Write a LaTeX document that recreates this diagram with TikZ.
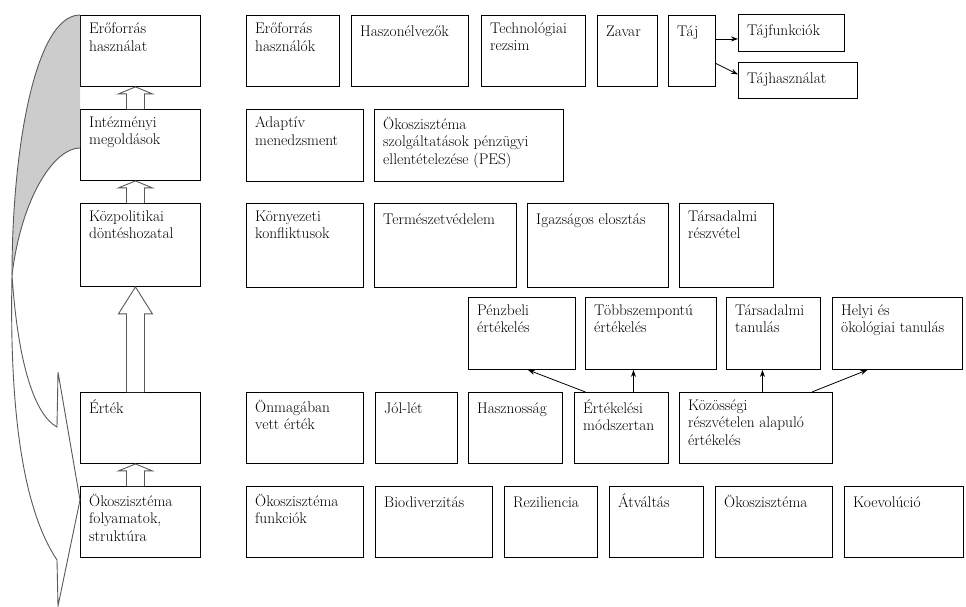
\documentclass[tikz,border=0pt]{standalone}
\usepackage{tikz}
\usetikzlibrary{arrows.meta, calc, positioning}
\tikzstyle{pbox}   = [draw, anchor=north west, inner sep=0pt, line width=0.9pt]
\tikzstyle{ptext}  = [anchor=north west, align=left, inner xsep=9pt, inner ysep=7.5pt,
                      font=\rmfamily\fontsize{15.4}{17.5}\selectfont,
                      execute at begin node={\rule{0pt}{14pt}}]
\tikzstyle{arrow}  = [line width=0.8pt, ->, >={Stealth[length=7pt, width=5pt]}]
\tikzstyle{hollow} = [draw=black!65, fill=white, line width=0.9pt]
\tikzstyle{band}   = [draw=black!65, line width=0.9pt]
% hollow block arrow pointing up from #1 to #2, head length #3
\newcommand{\blockup}[3]{%
  \draw[hollow] ($(#1.north)+(-14,0)$) -- ($(#2.south)+(-14,#3)$) -- ($(#2.south)+(-22,#3)$)
    -- ($(#2.south)+(-5,0)$) -- ($(#2.south)+(12,#3)$) -- ($(#2.south)+(4,#3)$)
    -- ($(#1.north)+(4,0)$);}

\begin{document}
\begin{tikzpicture}[x=1pt, y=-1pt]
  \useasboundingbox (0,0) rectangle (966,606);

  % left column
  \node[pbox, minimum width=120, minimum height=71,
        label={[ptext]north west:{Erőforrás\\használat}}] (eroforras) at (80,15) {};
  \node[pbox, minimum width=120, minimum height=71,
        label={[ptext]north west:{Intézményi\\megoldások}}] (intez) at (80,109) {};
  \node[pbox, minimum width=120, minimum height=83,
        label={[ptext]north west:{Közpolitikai\\döntéshozatal}}] (kozpol) at (80,203) {};
  \node[pbox, minimum width=120, minimum height=71,
        label={[ptext]north west:{Érték}}] (ertek) at (80,392) {};
  \node[pbox, minimum width=120, minimum height=71,
        label={[ptext]north west:{Ökoszisztéma\\folyamatok,\\struktúra}}] (oko) at (80,486) {};

  % row 1
  \node[pbox, minimum width=93, minimum height=71,
        label={[ptext]north west:{Erőforrás\\használók}}] (hasznalok) at (246,15) {};
  \node[pbox, minimum width=117, minimum height=71,
        label={[ptext]north west:{Haszonélvezők}}] (haszon) at (351,15) {};
  \node[pbox, minimum width=104, minimum height=71,
        label={[ptext]north west:{Technológiai\\rezsim}}] (technol) at (481,15) {};
  \node[pbox, minimum width=60, minimum height=71,
        label={[ptext]north west:{Zavar}}] (zavar) at (597,15) {};
  \node[pbox, minimum width=47, minimum height=71,
        label={[ptext]north west:{Táj}}] (taj) at (668,15) {};
  \node[pbox, minimum width=106, minimum height=37,
        label={[ptext]north west:{Tájfunkciók}}] (tajfunk) at (738,14) {};
  \node[pbox, minimum width=119, minimum height=36,
        label={[ptext]north west:{Tájhasználat}}] (tajhaszn) at (738,62) {};

  % row 2
  \node[pbox, minimum width=117, minimum height=72,
        label={[ptext]north west:{Adaptív\\menedzsment}}] (adaptiv) at (246,109) {};
  \node[pbox, minimum width=189, minimum height=72,
        label={[ptext]north west:{Ökoszisztéma\\szolgáltatások pénzügyi\\ellentételezése (PES)}}] (pes) at (374,109) {};

  % row 3
  \node[pbox, minimum width=117, minimum height=84,
        label={[ptext]north west:{Környezeti\\konfliktusok}}] (konfl) at (246,203) {};
  \node[pbox, minimum width=142, minimum height=84,
        label={[ptext]north west:{Természetvédelem}}] (termved) at (374,203) {};
  \node[pbox, minimum width=141, minimum height=84,
        label={[ptext]north west:{Igazságos elosztás}}] (igazsag) at (527,203) {};
  \node[pbox, minimum width=94, minimum height=84,
        label={[ptext]north west:{Társadalmi\\részvétel}}] (tarsresz) at (679,203) {};

  % row 4
  \node[pbox, minimum width=107, minimum height=72,
        label={[ptext]north west:{Pénzbeli\\értékelés}}] (penz) at (468,297) {};
  \node[pbox, minimum width=131, minimum height=72,
        label={[ptext]north west:{Többszempontú\\értékelés}}] (tobb) at (585,297) {};
  \node[pbox, minimum width=94, minimum height=72,
        label={[ptext]north west:{Társadalmi\\tanulás}}] (tarstan) at (726,297) {};
  \node[pbox, minimum width=130, minimum height=72,
        label={[ptext]north west:{Helyi és\\ökológiai tanulás}}] (helyi) at (832,297) {};

  % row 5
  \node[pbox, minimum width=117, minimum height=71,
        label={[ptext]north west:{Önmagában\\vett érték}}] (onmag) at (246,392) {};
  \node[pbox, minimum width=82, minimum height=71,
        label={[ptext]north west:{Jól-lét}}] (jollet) at (375,392) {};
  \node[pbox, minimum width=94, minimum height=71,
        label={[ptext]north west:{Hasznosság}}] (hasznos) at (468,392) {};
  \node[pbox, minimum width=94, minimum height=71,
        label={[ptext]north west:{Értékelési\\módszertan}}] (ertmod) at (574,392) {};
  \node[pbox, minimum width=153, minimum height=71,
        label={[ptext]north west:{Közösségi\\részvételen alapuló\\értékelés}}] (kozos) at (679,392) {};

  % row 6
  \node[pbox, minimum width=117, minimum height=71,
        label={[ptext]north west:{Ökoszisztéma\\funkciók}}] (okofunk) at (246,486) {};
  \node[pbox, minimum width=117, minimum height=71,
        label={[ptext]north west:{Biodiverzitás}}] (biodiv) at (375,486) {};
  \node[pbox, minimum width=93, minimum height=71,
        label={[ptext]north west:{Reziliencia}}] (rezil) at (504,486) {};
  \node[pbox, minimum width=94, minimum height=71,
        label={[ptext]north west:{Átváltás}}] (atvalt) at (609,486) {};
  \node[pbox, minimum width=117, minimum height=71,
        label={[ptext]north west:{Ökoszisztéma}}] (okosz) at (715,486) {};
  \node[pbox, minimum width=119, minimum height=71,
        label={[ptext]north west:{Koevolúció}}] (koevol) at (844,486) {};

  % block arrows up the left column
  \blockup{intez}{eroforras}{7}
  \blockup{kozpol}{intez}{7}
  \blockup{ertek}{kozpol}{27}
  \blockup{oko}{ertek}{7}

  % thin arrows
  \coordinate (tajA) at ($(taj.east)+(0,-12)$);
  \draw[arrow] (tajA) -- (tajA -| tajfunk.west);
  \draw[arrow] ($(taj.east)+(0,12.5)$) -- ($(tajhaszn.west)+(0,-6)$);
  \draw[arrow] ($(ertmod.north)+(-36,0)$) -- ($(penz.south)+(6,0)$);
  \coordinate (em2) at ($(ertmod.north)+(12,0)$);
  \draw[arrow] (em2) -- (em2 |- tobb.south);
  \coordinate (kz1) at ($(kozos.north)+(6.5,0)$);
  \draw[arrow] (kz1) -- (kz1 |- tarstan.south);
  \draw[arrow] ($(kozos.north)+(56,0)$) -- ($(helyi.south)+(-30,0)$);

  % big curved arrow on the left
  \coordinate (bk) at ($(intez.west)+(0,3)$);
  \coordinate (tip) at ($(oko.north west)+(0,14)$);
  \fill[black!20] (eroforras.north west) .. controls (35,15) and (12,150) .. (12,275)
    .. controls (22,195) and (55,148) .. (bk) -- cycle;
  \draw[band] (eroforras.north west) .. controls (35,15) and (12,150) .. (12,275);
  \draw[band] (bk) .. controls (55,148) and (22,195) .. (12,275);
  \draw[band, fill=white] (12,275) .. controls (18,365) and (35,415) .. (57,427)
    -- (58,372) -- (tip) -- (58,606) -- (57,560)
    .. controls (25,512) and (9,420) .. (12,275) -- cycle;
\end{tikzpicture}
\end{document}
